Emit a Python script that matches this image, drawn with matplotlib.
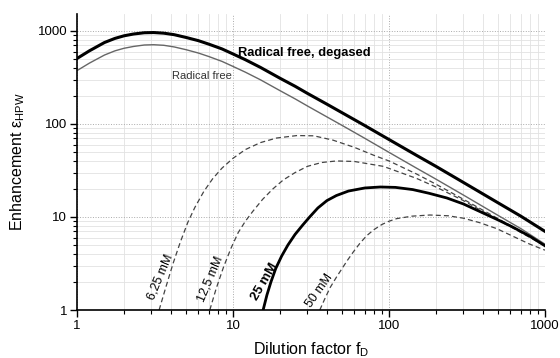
import numpy as np
import matplotlib
matplotlib.use("Agg")
import matplotlib.pyplot as plt
from matplotlib.ticker import NullFormatter, LogLocator

plt.rcParams['font.family'] = ['Liberation Sans', 'DejaVu Sans']
plt.rcParams['mathtext.default'] = 'regular'

# radical free curves
x_free = [1, 1.2, 1.5, 1.75, 2, 2.3, 2.7, 3.1, 3.6, 4.2, 5, 6, 7, 8.5, 10, 12, 15, 20, 25, 30,
          40, 50, 70, 100, 150, 200, 300, 500, 700, 1000]
y_degased = [505, 610, 750, 830, 885, 925, 955, 960, 945, 910, 850, 785, 720, 640, 565, 490, 405,
             310, 254, 213, 163, 132, 96, 68, 46, 35, 23.5, 14.2, 10.2, 7.0]
y_free = [374, 450, 550, 610, 650, 680, 705, 710, 700, 672, 628, 578, 530, 470, 415, 360, 298,
          228, 186, 156, 119, 96.5, 70, 49.5, 33.5, 25.5, 17.2, 10.4, 7.5, 5.1]

# radical concentrations
x_625 = [3.36, 3.7, 4.13, 4.6, 5.14, 5.7, 6.5, 7.4, 8.5, 10, 12, 15, 19, 25.7, 33, 43.7, 60, 80,
         100, 150, 200, 300, 500, 1000]
y_625 = [1, 1.73, 3.17, 5.4, 8.8, 12.7, 18.8, 25.7, 33.5, 42.7, 53, 63, 70.5, 75, 74.5, 67, 56, 46,
         40, 29, 22.5, 15.5, 9.6, 5.0]

x_125 = [7.1, 7.8, 8.7, 9.7, 10.8, 12, 13.4, 15.5, 18, 21, 25, 30, 37, 46, 60, 92, 150, 200, 300,
         500, 1000]
y_125 = [1, 1.7, 2.9, 4.6, 6.8, 9, 11.5, 15.5, 20, 25, 30, 35, 38.5, 40, 39.5, 35, 26, 21, 15,
         9.3, 4.9]

x_25 = [15.6, 16.5, 17.5, 18.8, 20.5, 22.5, 25, 28, 31, 35, 40, 46, 55, 70, 88, 110, 142, 180,
        235, 300, 380, 500, 620, 800, 1000]
y_25 = [1, 1.45, 2.0, 2.8, 3.8, 5.0, 6.5, 8.2, 10, 12.5, 15, 17, 19, 20.5, 21, 20.8, 19.7, 18,
        16, 13.8, 11.5, 9.3, 7.8, 6.2, 4.9]

x_50 = [36, 39, 42, 46, 49.7, 54, 59, 65, 72, 80, 90, 100, 112, 140, 183, 240, 300, 380, 490,
        650, 800, 1000]
y_50 = [1, 1.35, 1.75, 2.25, 2.75, 3.4, 4.2, 5.2, 6.3, 7.3, 8.3, 9.0, 9.6, 10.2, 10.5, 10.3, 9.7,
        8.7, 7.5, 6.0, 5.1, 4.4]

fig = plt.figure(figsize=(5.6, 3.58), dpi=100)
ax = fig.add_axes([0.1375, 0.134, 0.8357, 0.827])

ax.plot(x_free, y_degased, color='black', lw=2.2)
ax.plot(x_free, y_free, color='#666666', lw=1.0)
dash = dict(color='#444444', lw=0.9, dashes=(4, 2.5))
ax.plot(x_625, y_625, **dash)
ax.plot(x_125, y_125, **dash)
ax.plot(x_25, y_25, color='black', lw=2.0)
ax.plot(x_50, y_50, **dash)

ax.set_xscale('log')
ax.set_yscale('log')
ax.set_xlim(1, 1000)
ax.set_ylim(1, 1520)

ax.set_xticks([1, 10, 100, 1000])
ax.set_xticklabels(['1', '10', '100', '1000'])
ax.set_yticks([1, 10, 100, 1000])
ax.set_yticklabels(['1', '10', '100', '1000'])
ax.xaxis.set_minor_locator(LogLocator(base=10, subs=np.arange(2, 10)))
ax.yaxis.set_minor_locator(LogLocator(base=10, subs=np.arange(2, 10)))
ax.xaxis.set_minor_formatter(NullFormatter())
ax.yaxis.set_minor_formatter(NullFormatter())

ax.tick_params(which='major', direction='out', length=5, width=1, labelsize=9.5, pad=2)
ax.tick_params(which='minor', direction='out', length=3, width=0.8)

ax.grid(True, which='major', color='#aaaaaa', lw=0.7, ls=':')
ax.grid(True, which='minor', color='#e2e2e2', lw=0.6, ls='-')
ax.set_axisbelow(True)

for s in ['top', 'right']:
    ax.spines[s].set_visible(False)
ax.spines['left'].set_linewidth(1.2)
ax.spines['bottom'].set_linewidth(1.2)

ax.set_xlabel('Dilution factor f$_D$', fontsize=11.5, labelpad=6)
ax.set_ylabel('Enhancement ε$_{HPW}$', fontsize=11.5, labelpad=8)

ax.text(10.7, 580, 'Radical free, degased', fontsize=9.3, fontweight='bold', va='center', ha='left')
ax.text(4.06, 328, 'Radical free', fontsize=8, color='#333333', va='center', ha='left')
ax.text(3.4, 2.25, '6,25 mM', fontsize=9, rotation=67, ha='center', va='center')
ax.text(7.2, 2.15, '12,5 mM', fontsize=9, rotation=67, ha='center', va='center')
ax.text(16.0, 2.0, '25 mM', fontsize=9.5, fontweight='bold', rotation=60, ha='center', va='center')
ax.text(36.0, 1.6, '50 mM', fontsize=9, rotation=55, ha='center', va='center')

fig.savefig('out.png', dpi=100)
